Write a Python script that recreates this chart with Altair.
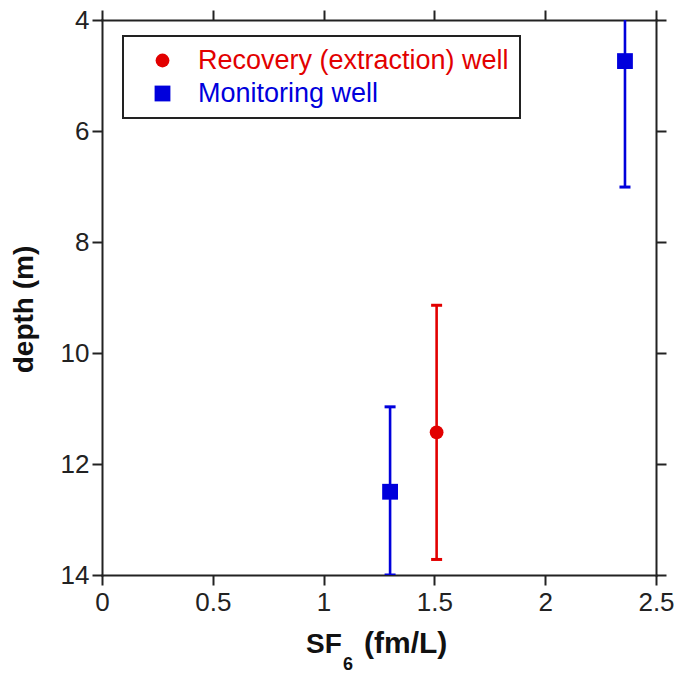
import altair as alt
import pandas as pd

# ---- data ----
wells = ["Recovery (extraction) well", "Monitoring well", "Monitoring well"]
sf6 = [1.51, 1.30, 2.36]            # fm/L
depth = [11.43, 12.50, 4.74]        # m
depth_lo = [9.14, 10.97, 2.45]      # shallow end of error bar
depth_hi = [13.72, 14.00, 7.01]     # deep end of error bar

x_ticks = [0, 0.5, 1, 1.5, 2, 2.5]
y_ticks = [4, 6, 8, 10, 12, 14]

well_order = ["Recovery (extraction) well", "Monitoring well"]
well_colors = ["#e20000", "#0000dc"]
well_shapes = ["circle", "square"]
well_sizes = [190, 250]

df = pd.DataFrame({"well": wells, "sf6": sf6, "depth": depth,
                   "lo": depth_lo, "hi": depth_hi})

xs = alt.Scale(domain=[0, 2.5], nice=False, zero=False)
ys = alt.Scale(domain=[4, 14], reverse=True, nice=False, zero=False)
cs = alt.Scale(domain=well_order, range=well_colors)

axis_common = dict(grid=False, domainColor="#222", domainWidth=2, tickColor="#222",
                   tickWidth=2, tickSize=10, labelFont="Liberation Sans",
                   labelFontSize=26, labelColor="#222", labelFlush=False)

base = alt.Chart(df)

rules = base.mark_rule(strokeWidth=2.6, clip=True).encode(
    x=alt.X("sf6:Q", scale=xs,
            axis=alt.Axis(orient="top", values=x_ticks, labels=False, title=None, **axis_common)),
    y=alt.Y("lo:Q", scale=ys,
            axis=alt.Axis(orient="right", values=y_ticks, labels=False, title=None, **axis_common)),
    y2="hi:Q",
    color=alt.Color("well:N", scale=cs),
)

cap_lo = base.mark_tick(orient="horizontal", size=11, thickness=3, opacity=1, clip=True).encode(
    x=alt.X("sf6:Q", scale=xs, axis=None), y=alt.Y("lo:Q", scale=ys, axis=None),
    color=alt.Color("well:N", scale=cs))
cap_hi = base.mark_tick(orient="horizontal", size=11, thickness=3, opacity=1, clip=True).encode(
    x=alt.X("sf6:Q", scale=xs, axis=None), y=alt.Y("hi:Q", scale=ys, axis=None),
    color=alt.Color("well:N", scale=cs))

legend = alt.Legend(
    title=None, orient="none", legendX=21, legendY=16,
    strokeColor="#222", fillColor="white",
    padding=11, symbolOffset=15, labelOffset=22, labelLimit=500,
    labelFont="Liberation Sans", labelFontSize=27, rowPadding=5,
    symbolStrokeWidth=0, symbolOpacity=1, symbolSize=215,
    labelColor={"expr": "datum.value === 'Monitoring well' ? '#0000dc' : '#e20000'"},
)

points = base.mark_point(filled=True, opacity=1).encode(
    x=alt.X("sf6:Q", scale=xs,
            axis=alt.Axis(orient="bottom", values=x_ticks, format="~g", title=None,
                          labelPadding=4, **axis_common)),
    y=alt.Y("depth:Q", scale=ys,
            axis=alt.Axis(orient="left", values=y_ticks, format="~g", labelPadding=3,
                          title="depth (m)", titleFont="Liberation Sans", titleFontSize=28,
                          titleFontWeight="bold", titleColor="#111", titleX=-78, titleY=289,
                          titleAngle=270, titleAlign="center", titleBaseline="middle",
                          **axis_common)),
    color=alt.Color("well:N", scale=cs, legend=legend),
    shape=alt.Shape("well:N", scale=alt.Scale(domain=well_order, range=well_shapes), legend=legend),
    size=alt.Size("well:N", scale=alt.Scale(domain=well_order, range=well_sizes), legend=None),
)

title_df = pd.DataFrame({"k": [0]})
t_sf = alt.Chart(title_df).mark_text(text="SF", font="Liberation Sans", fontSize=28,
                                     fontWeight="bold", align="left", baseline="alphabetic",
                                     color="#111").encode(x=alt.value(204), y=alt.value(633))
t_6 = alt.Chart(title_df).mark_text(text="6", font="Liberation Sans", fontSize=18,
                                    fontWeight="bold", align="left", baseline="alphabetic",
                                    color="#111").encode(x=alt.value(241), y=alt.value(650))
t_unit = alt.Chart(title_df).mark_text(text="(fm/L)", font="Liberation Sans", fontSize=30,
                                       fontWeight="bold", align="left", baseline="alphabetic",
                                       color="#111").encode(x=alt.value(262), y=alt.value(633))

chart = alt.layer(rules, cap_lo, cap_hi, points, t_sf, t_6, t_unit).resolve_axis(
    x="independent", y="independent"
).properties(
    width=554, height=555,
    autosize=alt.AutoSizeParams(type="none"),
    padding={"left": 102, "top": 20, "right": 23, "bottom": 99},
).configure_view(stroke=None).configure_axis(
    domainCap="square", tickCap="butt"
).configure_legend(strokeWidth=2, symbolOpacity=1)

chart.save("out.html", embed_options={"renderer": "svg", "actions": False})
